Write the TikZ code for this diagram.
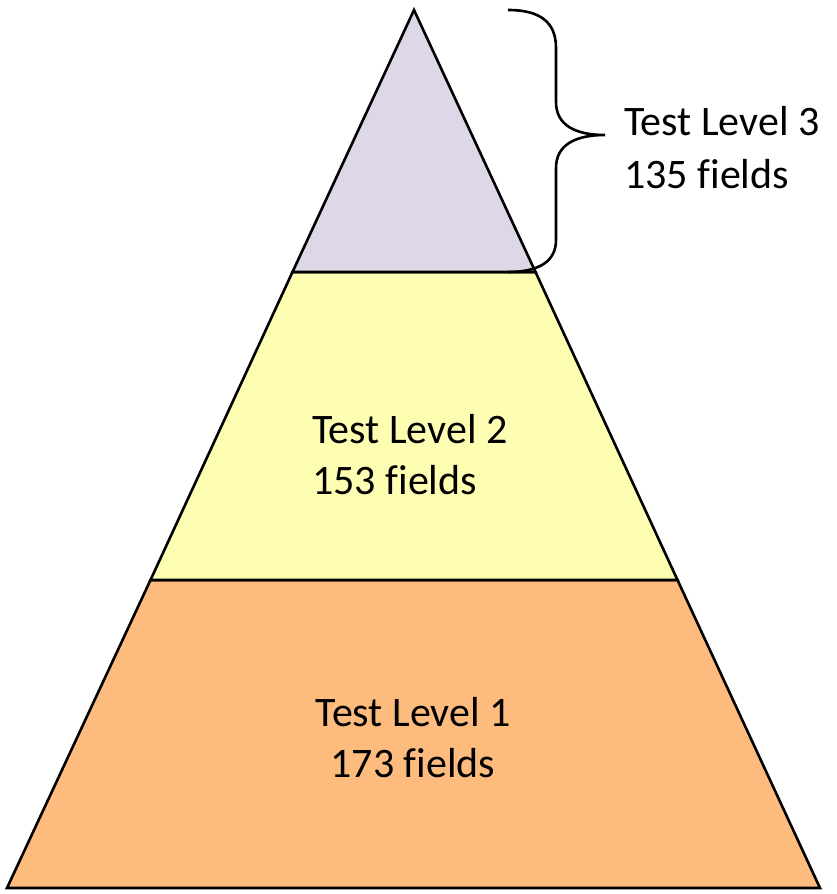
\documentclass[tikz,border=0pt]{standalone}
\usepackage{fontspec}
\setmainfont{Carlito}[Ligatures=NoCommon]
\definecolor{lvthree}{HTML}{DDD7E8}
\definecolor{lvtwo}{HTML}{FEFEB3}
\definecolor{lvone}{HTML}{FDBC7E}
\begin{document}
\begin{tikzpicture}[x=1pt,y=-1pt,
  layer/.style={draw=black,line width=2.6pt,line join=miter},
  lbl/.style={font=\fontsize{42}{52}\selectfont,inner sep=0pt},
  bracel/.style={draw=black,line width=2.6pt}]
\useasboundingbox (0,0) rectangle (836,894);
\coordinate (apex) at (414,10);
\coordinate (l3l) at (292.5,272);
\coordinate (l3r) at (535.5,272);
\coordinate (l2l) at (150.5,580);
\coordinate (l2r) at (677.5,580);
\coordinate (bl) at (7,888);
\coordinate (br) at (820,888);
\path[layer,fill=lvone] (l2l) -- (l2r) -- (br) -- (bl) -- cycle;
\path[layer,fill=lvtwo] (l3l) -- (l3r) -- (l2r) -- (l2l) -- cycle;
\path[layer,fill=lvthree] (apex) -- (l3r) -- (l3l) -- cycle;
\coordinate (btop) at (508,10);
\coordinate (btip) at (605,135);
\coordinate (bbot) at (508,272);
\draw[bracel] (btop) .. controls (540,10) and (556,22) .. (556,48) -- (556,102)
  .. controls (556,125) and (575,135) .. (btip)
  .. controls (575,135) and (556,145) .. (556,168) -- (556,240)
  .. controls (556,262) and (538,272) .. (bbot);
\node[lbl,anchor=base west] (t3a) at (624,135) {Test Level 3};
\node[lbl,anchor=base west] (t3b) at (624,188) {135 fields};
\node[lbl,anchor=base west] (t2a) at (312,443) {Test Level 2};
\node[lbl,anchor=base west] (t2b) at (312,494) {153 fields};
\node[lbl,anchor=base] (t1a) at (413,726) {Test Level 1};
\node[lbl,anchor=base] (t1b) at (413,777) {173 fields};
\end{tikzpicture}
\end{document}
